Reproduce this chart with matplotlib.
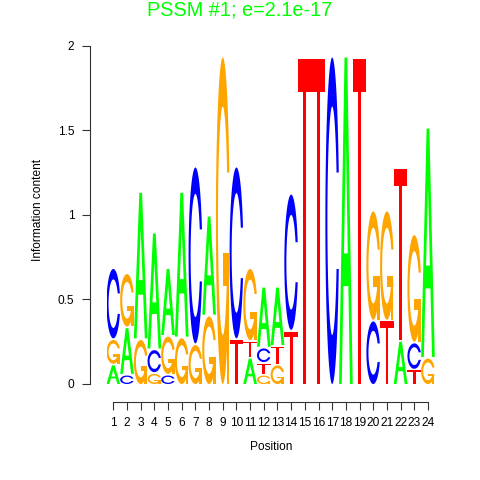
import numpy as np
import matplotlib
matplotlib.use("Agg")
import matplotlib.pyplot as plt
from matplotlib.patches import Polygon

plt.rcParams["font.family"] = ["Liberation Sans", "DejaVu Sans"]

# letter stacks per position, bottom to top, and their heights (bits)
positions = list(range(1, 25))
stacks = ["AGC", "CAG", "GA", "GCA", "CGA", "GA", "GC", "GA", "G", "TC",
          "ATG", "GTCA", "GTA", "TC", "T", "T", "C", "A", "T", "CG",
          "TG", "AT", "TCG", "GA"]
heights = [
    [0.11, 0.14, 0.41],
    [0.05, 0.27, 0.31],
    [0.26, 0.86],
    [0.06, 0.13, 0.68],
    [0.05, 0.22, 0.39],
    [0.27, 0.85],
    [0.23, 1.04],
    [0.40, 0.58],
    [1.93],
    [0.26, 1.01],
    [0.15, 0.09, 0.42],
    [0.05, 0.06, 0.08, 0.35],
    [0.11, 0.10, 0.34],
    [0.31, 0.80],
    [1.92],
    [1.92],
    [1.93],
    [1.93],
    [1.92],
    [0.37, 0.64],
    [0.37, 0.64],
    [0.25, 1.01],
    [0.08, 0.15, 0.63],
    [0.15, 1.35],
]
colors = {"A": "#00FF00", "C": "#0000FF", "G": "#FFA500", "T": "#FF0000"}
yticks = [0, 0.5, 1, 1.5, 2]
ytick_labels = ["0", "0.5", "1", "1.5", "2"]


def c_outline():
    a1 = np.linspace(0.3 + np.pi / 2, np.pi, 100)
    a2 = np.linspace(np.pi, 1.5 * np.pi, 100)
    xl = np.concatenate([0.5 + 0.5 * np.sin(a1), 0.5 + 0.5 * np.sin(a2)])
    yl = np.concatenate([0.5 + 0.5 * np.cos(a1), 0.5 + 0.5 * np.cos(a2)])
    x = np.concatenate([xl, xl[::-1]])
    y = np.concatenate([yl, 1 - yl[::-1]])
    ymax = (0.5 + 0.5 * np.cos(a1)).max()
    xi1 = 0.5 + 0.35 * np.sin(a1)
    yi1 = 0.5 + 0.35 * np.cos(a1)
    keep = yi1 <= ymax
    xi1, yi1 = xi1[keep], yi1[keep]
    yi1[0] = ymax
    xi = np.concatenate([xi1, 0.5 + 0.35 * np.sin(a2)])
    yi = np.concatenate([yi1, 0.5 + 0.35 * np.cos(a2)])
    x1 = np.concatenate([xi, xi[::-1]])
    y1 = np.concatenate([yi, 1 - yi[::-1]])
    x = np.concatenate([x, x1[::-1]])
    y = np.concatenate([y, y1[::-1]])
    return [(np.column_stack([x, y]), None)]


def letter_shapes(ch):
    if ch == "A":
        outer = [(0, 0), (0.4, 1), (0.6, 1), (1, 0), (0.8, 0), (0.68, 0.3),
                 (0.32, 0.3), (0.2, 0)]
        inner = [(0.36, 0.4), (0.5, 0.75), (0.64, 0.4)]
        return [(np.array(outer), None), (np.array(inner), "white")]
    if ch == "T":
        pts = [(0, 1), (1, 1), (1, 0.9), (0.6, 0.9), (0.6, 0), (0.4, 0),
               (0.4, 0.9), (0, 0.9)]
        return [(np.array(pts), None)]
    if ch == "C":
        return c_outline()
    if ch == "G":
        r1 = 0.5 + 0.5 * np.sin(0.3 + np.pi / 2)
        h1 = 0.4
        bar = [(r1, h1), (0.5, h1), (0.5, h1 - 0.1), (r1 - 0.2, h1 - 0.1),
               (r1 - 0.2, 0), (r1, 0)]
        return c_outline() + [(np.array(bar), None)]


fig = plt.figure(figsize=(4.8, 4.8), dpi=100)
ax = fig.add_axes([106.5 / 480, 0.2, 328.3 / 480, 338.3 / 480])

for pos, stack, hts in zip(positions, stacks, heights):
    y0 = 0.0
    for ch, h in zip(stack, hts):
        for pts, fc in letter_shapes(ch):
            xy = np.column_stack([pos - 0.5 + pts[:, 0], y0 + h * pts[:, 1]])
            ax.add_patch(Polygon(xy, closed=True, facecolor=fc or colors[ch],
                                 edgecolor="none", zorder=3 if fc else 2))
        y0 += h + 0.01

ax.set_xlim(0.5, 24.5)
ax.set_ylim(0, 2)
for s in ["top", "right"]:
    ax.spines[s].set_visible(False)
ax.spines["left"].set_position(("outward", 11.9))
ax.spines["bottom"].set_position(("outward", 13))
ax.spines["left"].set_bounds(0, 2)
ax.spines["bottom"].set_bounds(1, 24)
for s in ["left", "bottom"]:
    ax.spines[s].set_linewidth(0.8)
    ax.spines[s].set_color("#333333")
ax.set_xticks(positions)
ax.set_xticklabels([str(p) for p in positions])
ax.set_yticks(yticks)
ax.set_yticklabels(ytick_labels)
ax.tick_params(axis="both", direction="out", length=5.8, width=0.8,
               color="#333333", labelsize=8.6, pad=5)
ax.tick_params(axis="y", pad=5.5)

fig.text(239.5 / 480, 1 - 15 / 480, "PSSM #1; e=2.1e-17", color="#00FF00",
         fontsize=14.3, ha="center", va="baseline")
fig.text(271 / 480, 1 - 450 / 480, "Position", fontsize=8.6,
         ha="center", va="baseline")
fig.text(38 / 480, 1 - 210 / 480, "Information content", fontsize=8.6,
         ha="center", va="center", rotation=90)

fig.savefig("out.png", dpi=100)
